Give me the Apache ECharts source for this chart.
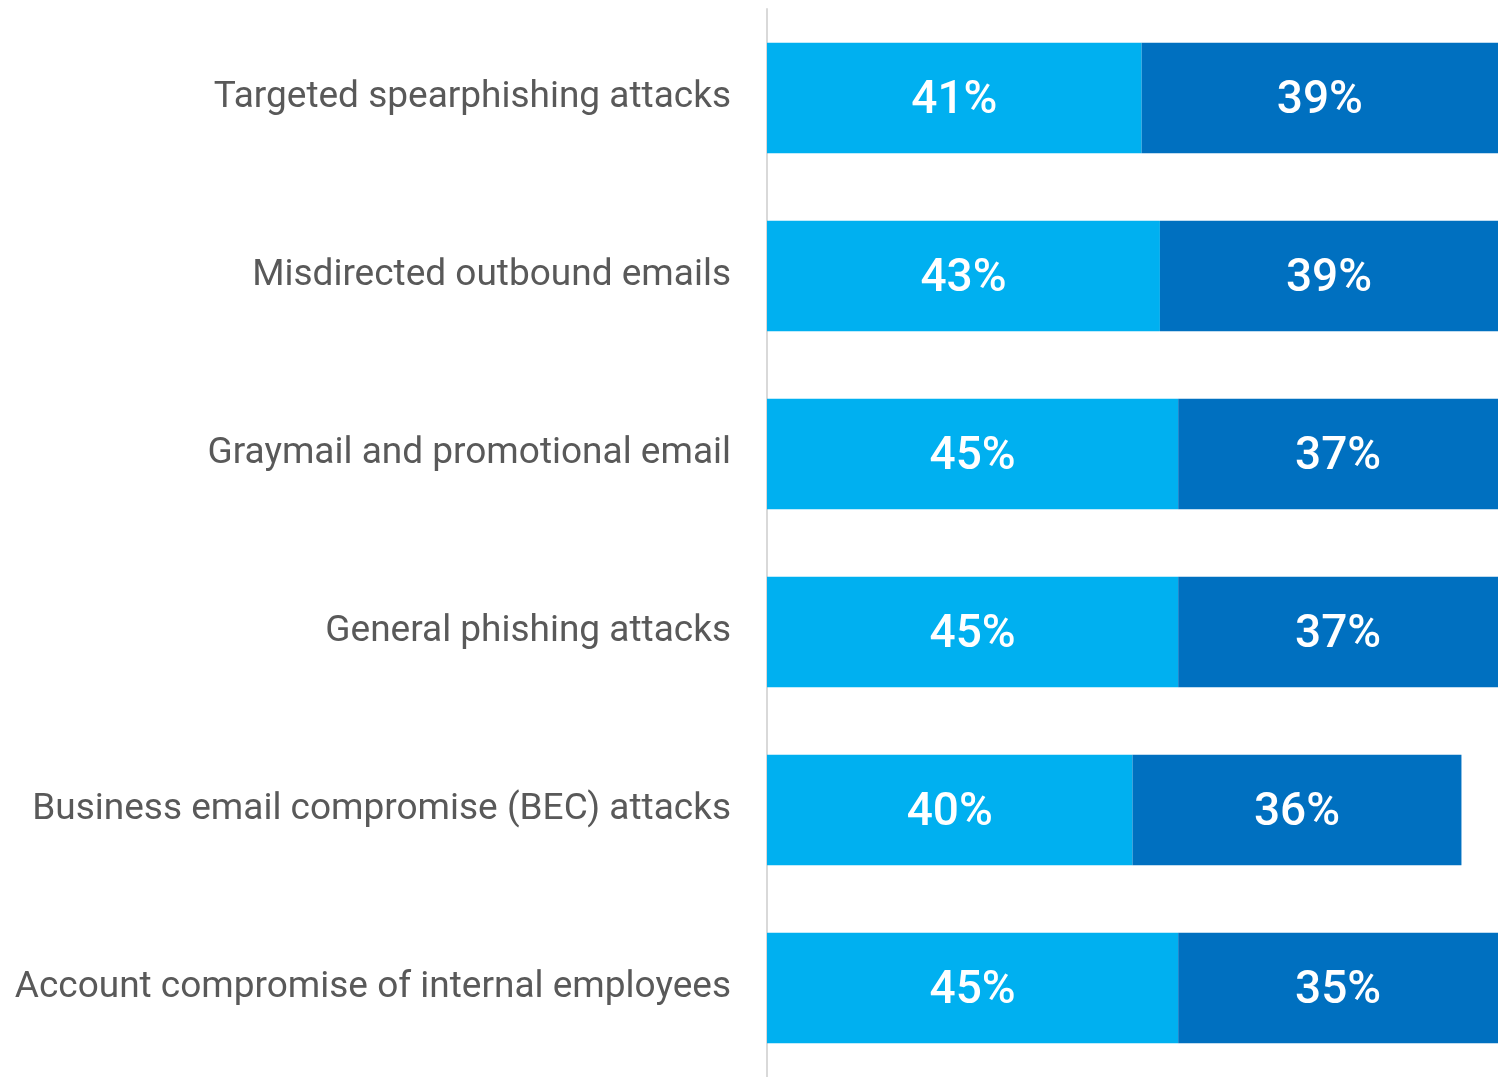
<!DOCTYPE html>
<html>
<head>
<meta charset="utf-8">
<script src="https://cdn.jsdelivr.net/npm/echarts@6/dist/echarts.min.js"></script>
<style>
  html, body { margin: 0; padding: 0; background: #ffffff; }
  #chart { width: 1498px; height: 1077px; }
</style>
</head>
<body>
<div id="chart"></div>
<script>
// Email threat categories, listed top to bottom
const categories = [
  'Targeted spearphishing attacks',
  'Misdirected outbound emails',
  'Graymail and promotional email',
  'General phishing attacks',
  'Business email compromise (BEC) attacks',
  'Account compromise of internal employees'
];
// Share of respondents (%) for the two stacked segments
const lightValues = [41, 43, 45, 45, 40, 45];
const darkValues = [39, 39, 37, 37, 36, 35];

const chart = echarts.init(document.getElementById('chart'), null, { renderer: 'canvas' });

const labelStyle = {
  show: true,
  position: 'inside',
  color: '#ffffff',
  fontFamily: 'Roboto, "Liberation Sans", sans-serif',
  fontWeight: 500,
  fontSize: 46,
  offset: [0, 3],
  formatter: p => p.value + '%'
};

chart.setOption({
  animation: false,
  backgroundColor: '#ffffff',
  grid: { left: 767, top: 9, width: 732, height: 1071, containLabel: false },
  xAxis: {
    type: 'value',
    min: 0,
    max: 80,
    show: false
  },
  yAxis: {
    type: 'category',
    data: categories,
    inverse: true,
    axisLine: { show: true, lineStyle: { color: '#d9d9d9', width: 2 } },
    axisTick: { show: false },
    axisLabel: {
      color: '#595959',
      fontFamily: 'Roboto, "Liberation Sans", sans-serif',
      fontSize: 37,
      margin: 36,
      padding: [4, 0, 0, 0]
    },
    splitLine: { show: false }
  },
  series: [
    {
      type: 'bar',
      stack: 'total',
      data: lightValues,
      barCategoryGap: '38%',
      itemStyle: { color: '#00b0f0' },
      label: labelStyle
    },
    {
      type: 'bar',
      stack: 'total',
      data: darkValues,
      barCategoryGap: '38%',
      itemStyle: { color: '#0070c0' },
      label: labelStyle
    }
  ]
});
</script>
</body>
</html>
